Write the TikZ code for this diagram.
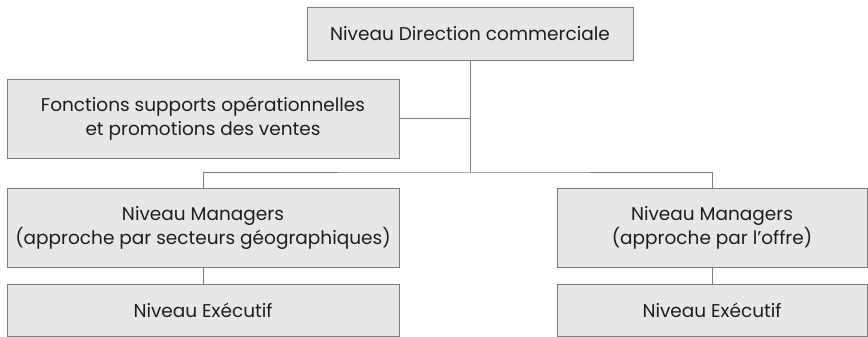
\documentclass[tikz,border=0pt]{standalone}
\usepackage{fontspec}
\setmainfont{Poppins}
\definecolor{boxfill}{RGB}{230,231,232}
\definecolor{boxline}{RGB}{125,125,125}
\definecolor{txt}{RGB}{30,30,30}
\begin{document}
\begin{tikzpicture}[x=1pt,y=1pt,
  orgbox/.style={draw=boxline,fill=boxfill,line width=0.9pt,inner sep=0pt,align=center,
    text=txt,font=\fontsize{18.5}{24}\selectfont},
  link/.style={draw=boxline,line width=0.9pt}]
\useasboundingbox (0,0) rectangle (868,-337);
\node[orgbox,minimum width=326,minimum height=53] (top) at (470,-33.5) {Niveau Direction commerciale};
\node[orgbox,minimum width=392,minimum height=79] (fonc) at (203,-118.5) {Fonctions supports opérationnelles\\et promotions des ventes};
\node[orgbox,minimum width=392,minimum height=79] (ml) at (203,-227.5) {Niveau Managers\\(approche par secteurs géographiques)};
\node[orgbox,minimum width=392,minimum height=52] (el) at (203,-310) {Niveau Exécutif};
\node[orgbox,minimum width=310,minimum height=79] (mr) at (712,-227.5) {Niveau Managers\\(approche par l{\char39}offre)};
\node[orgbox,minimum width=310,minimum height=52] (er) at (712,-310) {Niveau Exécutif};
\coordinate (branch) at (470,-172);
\draw[link] (top.south) -- (branch);
\draw[link] (fonc.east) -- (fonc.east -| branch);
\draw[link] (ml.north) |- (branch) -| (mr.north);
\draw[link] (ml.south) -- (el.north);
\draw[link] (mr.south) -- (er.north);
\end{tikzpicture}
\end{document}
